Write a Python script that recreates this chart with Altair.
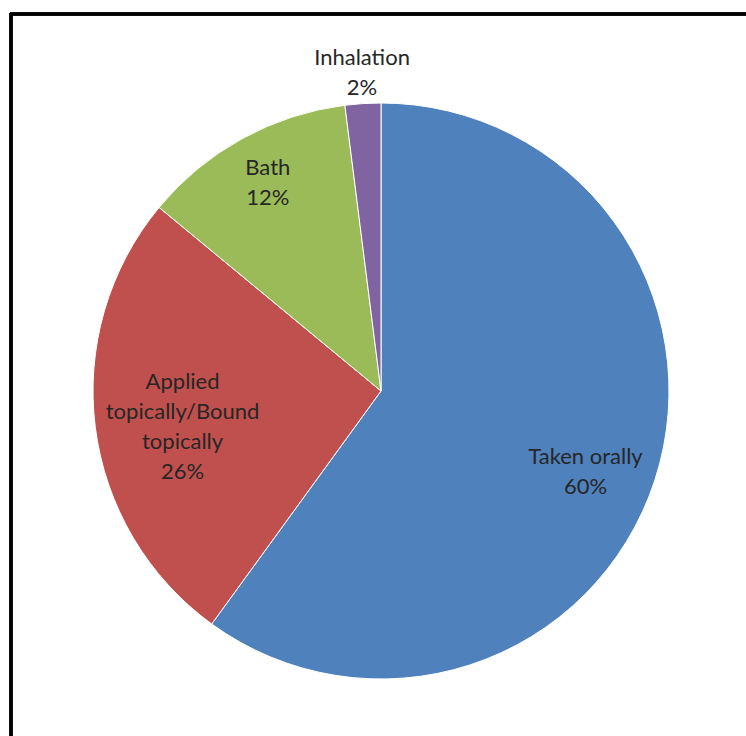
import altair as alt
import pandas as pd

# Administration routes and their share of uses (%)
routes = ["Taken orally", "Applied\ntopically/Bound\ntopically", "Bath", "Inhalation"]
shares = [60, 26, 12, 2]
colors = ["#4F81BD", "#C0504D", "#9BBB59", "#8064A2"]

df = pd.DataFrame({
    "route": routes,
    "share": shares,
    "rank": list(range(len(routes))),
})
df["label"] = df["route"] + "\n" + df["share"].astype(str) + "%"

W, H = 746, 736
CX, CY, R = 381, 391, 288

base = alt.Chart(df).encode(
    theta=alt.Theta("share:Q", stack=True),
    order=alt.Order("rank:Q", sort="ascending"),
    x=alt.value(CX),
    y=alt.value(CY),
)

pie = base.mark_arc(outerRadius=R, stroke="white", strokeWidth=1).encode(
    color=alt.Color("route:N", scale=alt.Scale(domain=routes, range=colors), legend=None),
)

text_style = dict(font="Lato", fontSize=22, lineHeight=30, lineBreak="\n",
                  color="#262626", align="center", baseline="middle")

# label placement per slice: (distance from centre, dx, dy)
placement = {
    routes[0]: (215, 0, 0),
    routes[1]: (200, 0, -34),
    routes[2]: (235, 0, -17),
    routes[3]: (334, 2, 0),
}


def slice_label(route):
    rad, dx, dy = placement[route]
    # keep the whole table so the stacked angles stay the same, blank the other labels
    return base.mark_text(radius=rad, dx=dx, dy=dy, **text_style).encode(
        text=alt.condition(alt.datum.route == route, "label:N", alt.value(""))
    )


labels = [slice_label(r) for r in routes]

# frame lines along the top and left edges
frame_top = alt.Chart(df).mark_rule(color="black", strokeWidth=3).encode(
    x=alt.value(10), x2=alt.value(W), y=alt.value(14)
)
frame_left = alt.Chart(df).mark_rule(color="black", strokeWidth=3).encode(
    x=alt.value(11), y=alt.value(13), y2=alt.value(H)
)

chart = alt.layer(pie, *labels, frame_top, frame_left).properties(
    width=W, height=H, padding=0, autosize=alt.AutoSizeParams(type="none"),
    background="white",
).configure_view(stroke=None)

chart.save("out.html", embed_options={"renderer": "svg", "actions": False})
